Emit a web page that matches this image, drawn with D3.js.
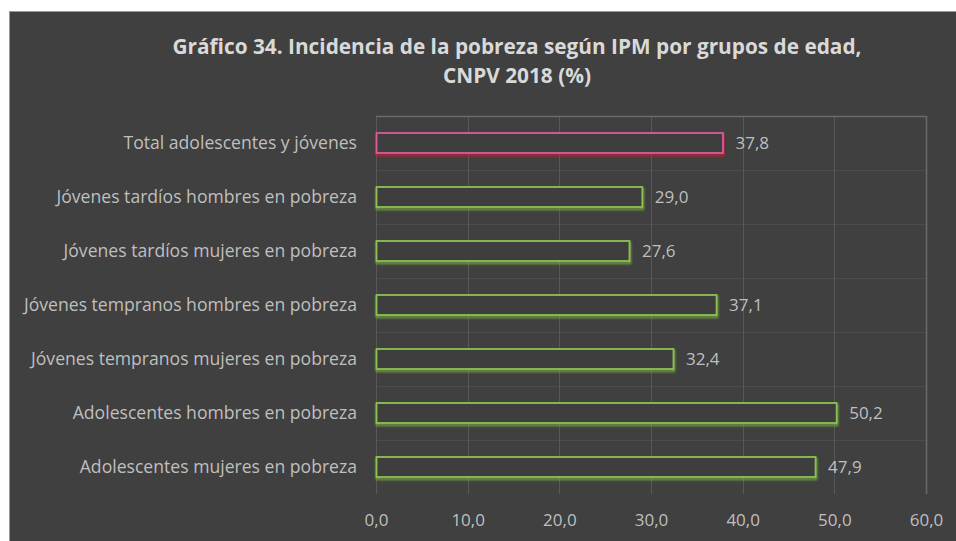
<!DOCTYPE html>
<html>
<head>
<meta charset="utf-8">
<script src="https://cdn.jsdelivr.net/npm/d3@7"></script>
<style>
  html, body { margin: 0; padding: 0; background: #ffffff; }
  svg { display: block; }
</style>
</head>
<body>
<svg id="chart" width="956" height="541"></svg>
<script>
// Categories listed top to bottom
const categories = [
  "Total adolescentes y jóvenes",
  "Jóvenes tardíos hombres en pobreza",
  "Jóvenes tardíos mujeres en pobreza",
  "Jóvenes tempranos hombres en pobreza",
  "Jóvenes tempranos mujeres en pobreza",
  "Adolescentes hombres en pobreza",
  "Adolescentes mujeres en pobreza"
];
const values = [37.8, 29.0, 27.6, 37.1, 32.4, 50.2, 47.9];
const tickValues = [0, 10, 20, 30, 40, 50, 60];
const titleLines = [
  "Gráfico 34. Incidencia de la pobreza según IPM por grupos de edad,",
  "CNPV 2018 (%)"
];

const svg = d3.select("#chart");
const W = 956, H = 541;
const FONT = "'Open Sans', 'Noto Sans', sans-serif";
const fmt = v => v.toFixed(1).replace(".", ",");

// chart panel
svg.append("rect").attr("x", 9).attr("y", 11).attr("width", W - 9).attr("height", H - 11)
  .attr("fill", "#404040");
svg.append("line").attr("x1", 9.5).attr("x2", 9.5).attr("y1", 11).attr("y2", H)
  .attr("stroke", "#9a9a9a").attr("stroke-width", 1);
svg.append("line").attr("x1", 9).attr("x2", W).attr("y1", 11.5).attr("y2", 11.5)
  .attr("stroke", "#9a9a9a").attr("stroke-width", 1);

const defs = svg.append("defs");
const glow = defs.append("filter").attr("id", "soft").attr("x", "-5%").attr("y", "-50%")
  .attr("width", "110%").attr("height", "200%");
glow.append("feGaussianBlur").attr("stdDeviation", 0.8);

const plot = { left: 376, right: 926, top: 116, bottom: 494 };

const x = d3.scaleLinear().domain([0, 60]).range([plot.left, plot.right]);
const y = d3.scaleBand().domain(categories).range([plot.top, plot.bottom]).paddingInner(0).paddingOuter(0);

// horizontal separators between categories
svg.append("g").selectAll("line").data(categories.slice(1)).join("line")
  .attr("x1", plot.left).attr("x2", plot.right)
  .attr("y1", d => Math.round(y(d)) + 0.5).attr("y2", d => Math.round(y(d)) + 0.5)
  .attr("stroke", "#4c4c4c").attr("stroke-width", 1);

// vertical gridlines
svg.append("g").selectAll("line").data(tickValues).join("line")
  .attr("x1", d => Math.round(x(d)) + 0.5).attr("x2", d => Math.round(x(d)) + 0.5)
  .attr("y1", plot.top).attr("y2", plot.bottom)
  .attr("stroke", "#585858").attr("stroke-width", 1);

// plot frame top/right
svg.append("path")
  .attr("d", `M${plot.left},${plot.top + 0.5}H${plot.right + 0.5}V${plot.bottom}`)
  .attr("fill", "none").attr("stroke", "#6a6a6a").attr("stroke-width", 1.5);

// title
svg.append("g").selectAll("text").data(titleLines).join("text")
  .attr("x", 517).attr("y", (d, i) => 54 + i * 29)
  .attr("text-anchor", "middle")
  .attr("font-family", FONT)
  .attr("font-weight", "bold").attr("font-size", 20.8)
  .attr("fill", "#d9d9d9")
  .text(d => d);

// bars
const barH = 20;
const isTotal = (d, i) => i === 0;
const bars = svg.append("g").selectAll("g").data(values).join("g");
bars.append("rect")
  .attr("x", x(0) + 1)
  .attr("y", (d, i) => y.bandwidth() / 2 + y(categories[i]) - barH / 2 + 2)
  .attr("width", d => x(d) - x(0))
  .attr("height", barH)
  .attr("fill", "none")
  .attr("stroke", (d, i) => isTotal(d, i) ? "#e3132d" : "#7fb53f")
  .attr("stroke-width", 2.4)
  .attr("opacity", 0.8)
  .attr("filter", "url(#soft)");
bars.append("rect")
  .attr("x", x(0) + 0.5)
  .attr("y", (d, i) => y.bandwidth() / 2 + y(categories[i]) - barH / 2)
  .attr("width", d => x(d) - x(0))
  .attr("height", barH)
  .attr("fill", "#3e3e3e")
  .attr("stroke", (d, i) => isTotal(d, i) ? "#d85c9c" : "#8cc151")
  .attr("stroke-width", 1.8);

// value labels
bars.append("text")
  .attr("x", d => x(d) + 13)
  .attr("y", (d, i) => y(categories[i]) + y.bandwidth() / 2 + 6)
  .attr("font-family", FONT)
  .attr("font-size", 17)
  .attr("fill", "#bfbfbf")
  .text(d => fmt(d));

// category axis labels
svg.append("g").selectAll("text").data(categories).join("text")
  .attr("x", plot.left - 19)
  .attr("y", d => y(d) + y.bandwidth() / 2 + 6)
  .attr("text-anchor", "end")
  .attr("font-family", FONT)
  .attr("font-size", 17.6)
  .attr("fill", "#bfbfbf")
  .text(d => d);

// value axis tick labels
const xAxis = d3.axisBottom(x).tickValues(tickValues).tickFormat(fmt).tickSize(0).tickPadding(20);
const ax = svg.append("g").attr("transform", `translate(0,${plot.bottom})`).call(xAxis);
ax.select(".domain").remove();
ax.selectAll("text")
  .attr("font-family", FONT)
  .attr("font-size", 17)
  .attr("fill", "#bfbfbf");
</script>
</body>
</html>
